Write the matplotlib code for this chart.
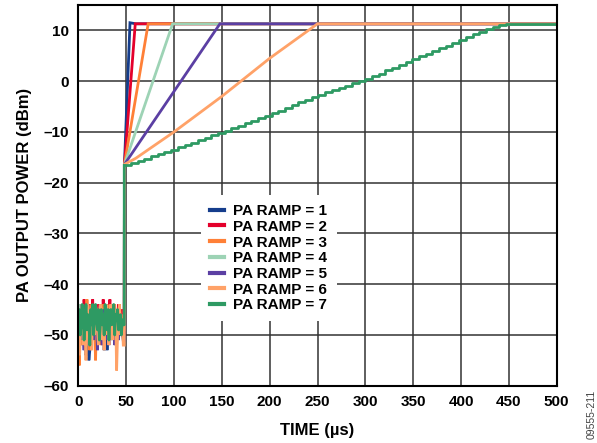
import matplotlib
matplotlib.use("Agg")
import matplotlib.pyplot as plt

plt.rcParams['font.family'] = ['Liberation Sans', 'DejaVu Sans']

# ---------------- data ----------------
labels = ["PA RAMP = 1", "PA RAMP = 2", "PA RAMP = 3", "PA RAMP = 4",
          "PA RAMP = 5", "PA RAMP = 6", "PA RAMP = 7"]
colors = ["#153d8c", "#e4002b", "#ff8037", "#9dd3b5",
          "#5b3fa3", "#ffa268", "#2e9a63"]

noise_time = list(range(0, 48))
noise = [
    [-47, -50, -46, -45, -52, -49, -48, -51, -54, -53, -50, -55, -53, -49, -46, -48,
     -50, -47, -45, -52, -51, -49, -47, -45, -51, -50, -48, -53, -50, -47, -53, -49,
     -47, -50, -49, -51, -46, -48, -50, -52, -49, -47, -51, -46, -50, -48, -49, -51],
    [-45, -48, -44, -47, -50, -46, -43, -45, -49, -47, -44, -51, -44, -48, -46, -43,
     -50, -45, -47, -44, -52, -46, -44, -49, -46, -48, -43, -47, -45, -48, -50, -44,
     -46, -43, -49, -45, -48, -44, -46, -50, -45, -47, -44, -49, -46, -48, -45, -50],
    [-48, -56, -50, -44, -47, -52, -45, -49, -50, -43, -47, -49, -53, -46, -44, -51,
     -44, -48, -55, -47, -45, -50, -46, -44, -52, -47, -44, -49, -46, -47, -50, -45,
     -48, -44, -51, -47, -45, -50, -44, -48, -52, -46, -49, -44, -47, -50, -46, -49],
    [-46, -49, -44, -47, -51, -45, -48, -50, -46, -44, -52, -47, -45, -49, -45, -47,
     -51, -48, -44, -46, -50, -47, -45, -49, -46, -45, -51, -47, -48, -44, -46, -50,
     -48, -45, -51, -46, -48, -44, -50, -47, -46, -49, -45, -48, -46, -50, -47, -48],
    [-49, -47, -51, -46, -44, -50, -53, -48, -47, -49, -52, -46, -45, -50, -48, -46,
     -51, -45, -49, -47, -53, -48, -46, -44, -50, -52, -47, -45, -49, -51, -46, -48,
     -52, -47, -45, -50, -48, -46, -52, -48, -45, -49, -51, -47, -46, -50, -48, -51],
    [-50, -54, -46, -49, -44, -52, -45, -48, -55, -48, -44, -46, -51, -47, -53, -45,
     -46, -50, -44, -48, -49, -52, -47, -44, -45, -51, -48, -53, -46, -44, -50, -48,
     -52, -46, -44, -47, -51, -46, -48, -45, -57, -50, -46, -44, -50, -47, -48, -52],
    [-47, -45, -50, -48, -44, -46, -51, -47, -44, -49, -46, -47, -52, -45, -48, -44,
     -50, -46, -44, -47, -49, -45, -51, -48, -45, -48, -46, -50, -44, -47, -49, -45,
     -51, -47, -45, -48, -46, -44, -50, -46, -47, -45, -49, -48, -46, -50, -47, -48],
]

jump_time = 48.0
end_time = 500

# ramp key points (time, dBm) for ramps 1..6
ramp_times = [
    [48.2, 54.0, 60.0],
    [48.2, 59.5],
    [48.2, 73.0],
    [48.2, 98.6],
    [48.2, 148.0],
    [48.2, 60.0, 100.0, 150.0, 200.0, 250.0],
]
ramp_values = [
    [-16.4, 11.5, 11.3],
    [-16.4, 11.3],
    [-16.4, 11.3],
    [-16.4, 11.3],
    [-16.4, 11.3],
    [-16.4, -15.2, -10.0, -3.0, 4.5, 11.3],
]
final_level = 11.3

# ramp 7 staircase (~7 us steps)
ramp7_times = [48, 55, 62, 69, 76, 83, 90, 97, 104, 111, 118, 125, 132, 139,
               146, 153, 160, 167, 174, 181, 188, 195, 202, 209, 216, 223, 230,
               237, 244, 251, 258, 265, 272, 279, 286, 293, 300, 307, 314, 321,
               328, 335, 342, 349, 356, 363, 370, 377, 384, 391, 398, 405, 412,
               419, 426, 433, 440, 447]
ramp7_values = [-16.6, -16.1, -15.7, -15.3, -14.8, -14.4, -13.9, -13.5, -13.0,
                -12.6, -12.1, -11.6, -11.2, -10.7, -10.3, -9.8, -9.3, -8.8,
                -8.3, -7.8, -7.3, -6.8, -6.3, -5.8, -5.3, -4.7, -4.2, -3.7,
                -3.2, -2.7, -2.2, -1.8, -1.3, -0.9, -0.4, 0.0, 0.4, 1.0, 1.5,
                2.1, 2.6, 3.2, 3.8, 4.3, 4.9, 5.4, 5.9, 6.5, 7.0, 7.6, 8.1, 8.7,
                9.2, 9.7, 10.2, 10.7, 11.1, 11.3]

xticks = [0, 50, 100, 150, 200, 250, 300, 350, 400, 450, 500]
yticks = [-60, -50, -40, -30, -20, -10, 0, 10]

# ---------------- figure ----------------
fig = plt.figure(figsize=(5.97, 4.43), dpi=100)
ax = fig.add_axes([0.1312, 0.1293, 0.8013, 0.8594])

lw = 2.0
for i in range(7):
    nt = noise_time + [jump_time]
    nv = noise[i] + [noise[i][-1]]
    if i < 6:
        t = nt + ramp_times[i] + [end_time]
        v = nv + ramp_values[i] + [final_level]
        ax.plot(t, v, color=colors[i], lw=lw, label=labels[i],
                solid_joinstyle='miter', zorder=3 + i)
    else:
        ax.plot(nt + [ramp7_times[0]], nv + [ramp7_values[0]],
                color=colors[i], lw=lw, zorder=3 + i)
        ax.plot(ramp7_times + [end_time], ramp7_values + [final_level],
                color=colors[i], lw=lw, drawstyle='steps-post',
                label=labels[i], zorder=3 + i)

ax.set_xlim(0, 500)
ax.set_ylim(-60, 15)
ax.set_xticks(xticks)
ax.set_yticks(yticks)
ax.set_xticklabels([str(x) for x in xticks])
ax.set_yticklabels([str(y).replace('-', '\u2013') for y in yticks])
ax.tick_params(length=0, pad=7, labelsize=11)
for lab in ax.get_xticklabels() + ax.get_yticklabels():
    lab.set_fontweight('bold')

ax.grid(True, color='#333333', lw=1.1, zorder=1)
ax.set_axisbelow(True)
for s in ax.spines.values():
    s.set_color('black')
    s.set_linewidth(1.5)
    s.set_zorder(20)

ax.set_xlabel("TIME (\u00b5s)", fontsize=12, fontweight='bold', labelpad=10)
ax.set_ylabel("PA OUTPUT POWER (dBm)", fontsize=12, fontweight='bold', labelpad=8)

leg = ax.legend(loc='upper left', bbox_to_anchor=(0.257, 0.501),
                prop={'weight': 'bold', 'size': 11},
                frameon=True, fancybox=False, edgecolor='none',
                facecolor='white', framealpha=1, handlelength=0.9,
                handletextpad=0.6, labelspacing=0.11, borderpad=0.6,
                borderaxespad=0)
leg.set_zorder(30)
for h in leg.get_lines():
    h.set_linewidth(3)

fig.text(591.7 / 597, 1 - 414 / 443, "09555-211", rotation=90,
         fontsize=7.5, color='#444444', ha='center', va='center')

fig.savefig("out.png", dpi=100)
